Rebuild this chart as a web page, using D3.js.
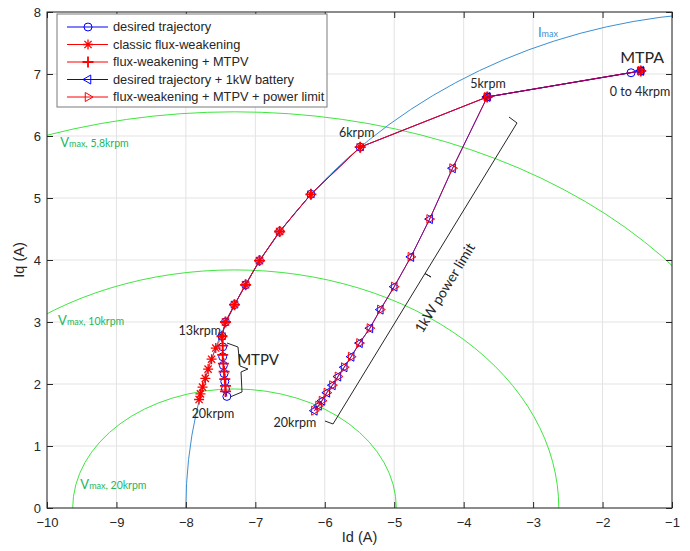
<!DOCTYPE html>
<html>
<head>
<meta charset="utf-8">
<script src="https://cdn.jsdelivr.net/npm/d3@7"></script>
<style>
body { margin: 0; background: #fff; }
text { font-family: "Liberation Sans", Arial, sans-serif; fill: #262626; }
.ann { font-family: Lato, "Open Sans", sans-serif; }
</style>
</head>
<body>
<svg id="chart" width="690" height="551"></svg>
<script>
// axis ticks
let idTicks = [-10, -9, -8, -7, -6, -5, -4, -3, -2, -1]
let iqTicks = [0, 1, 2, 3, 4, 5, 6, 7, 8]

// desired trajectory (MTPA -> 5krpm -> along Imax -> MTPV)
let desiredId = [-1.45, -1.59, -3.66, -5.49, -6.20, -6.65, -6.94, -7.14, -7.30, -7.43, -7.48, -7.47, -7.47, -7.46, -7.45, -7.44, -7.43, -7.41]
let desiredIq = [7.05, 7.02, 6.63, 5.82, 5.06, 4.46, 3.99, 3.60, 3.28, 3.00, 2.77, 2.60, 2.44, 2.30, 2.17, 2.04, 1.92, 1.80]

// classic flux-weakening (stays on Imax)
let classicId = [-1.45, -3.66, -5.49, -6.20, -6.65, -6.94, -7.14, -7.30, -7.43, -7.48, -7.57, -7.63, -7.68, -7.72, -7.76, -7.79, -7.81]
let classicIq = [7.05, 6.63, 5.82, 5.06, 4.46, 3.99, 3.60, 3.28, 3.00, 2.77, 2.58, 2.40, 2.24, 2.09, 1.95, 1.84, 1.75]

// flux-weakening + MTPV
let mtpvId = [-1.45, -3.66, -5.49, -6.20, -6.65, -6.94, -7.14, -7.30, -7.43, -7.48, -7.47, -7.47, -7.46, -7.45, -7.44, -7.43, -7.43]
let mtpvIq = [7.05, 6.63, 5.82, 5.06, 4.46, 3.99, 3.60, 3.28, 3.00, 2.77, 2.62, 2.47, 2.33, 2.20, 2.08, 1.97, 1.88]

// 1kW power limited trajectories (both series share the same points)
let powerId = [-1.45, -3.66, -4.16, -4.49, -4.76, -5.00, -5.20, -5.35, -5.50, -5.62, -5.72, -5.81, -5.89, -5.97, -6.04, -6.09, -6.15]
let powerIq = [7.05, 6.63, 5.48, 4.66, 4.05, 3.57, 3.20, 2.90, 2.66, 2.44, 2.27, 2.12, 1.98, 1.86, 1.73, 1.65, 1.57]

// current limit circle and voltage limit ellipses
let iMax = 8
let vmaxNames = ['5,8krpm', '10krpm', '20krpm']
let vmaxCenter = [-7.3, -7.3, -7.3]
let vmaxAxisD = [7.97, 4.67, 2.33]
let vmaxAxisQ = [6.39, 3.84, 1.92]

let svg = d3.select('#chart')
let plotL = 47, plotR = 672, plotT = 12, plotB = 508

let x = d3.scaleLinear().domain([-10, -1]).range([plotL, plotR])
let y = d3.scaleLinear().domain([0, 8]).range([plotB, plotT])

svg.append('rect').attr('width', 690).attr('height', 551).attr('fill', '#fff')

svg.append('clipPath').attr('id', 'plotclip')
    .append('rect')
    .attr('x', plotL).attr('y', plotT)
    .attr('width', plotR - plotL).attr('height', plotB - plotT)

// grid
svg.append('g').selectAll('line')
    .data(idTicks)
    .enter()
    .append('line')
    .attr('x1', (d) => x(d)).attr('x2', (d) => x(d))
    .attr('y1', plotT).attr('y2', plotB)
    .attr('stroke', '#e3e3e3')
svg.append('g').selectAll('line')
    .data(iqTicks)
    .enter()
    .append('line')
    .attr('y1', (d) => y(d)).attr('y2', (d) => y(d))
    .attr('x1', plotL).attr('x2', plotR)
    .attr('stroke', '#e3e3e3')

let plot = svg.append('g').attr('clip-path', 'url(#plotclip)')

// Vmax ellipses
plot.selectAll('.vmax')
    .data(vmaxNames)
    .enter()
    .append('ellipse')
    .attr('class', 'vmax')
    .attr('cx', (d, i) => x(vmaxCenter[i]))
    .attr('cy', y(0))
    .attr('rx', (d, i) => x(vmaxCenter[i] + vmaxAxisD[i]) - x(vmaxCenter[i]))
    .attr('ry', (d, i) => y(0) - y(vmaxAxisQ[i]))
    .attr('fill', 'none')
    .attr('stroke', '#3fe63f')
    .attr('stroke-width', 1)

// Imax circle
plot.append('ellipse')
    .attr('cx', x(0)).attr('cy', y(0))
    .attr('rx', x(0) - x(-iMax))
    .attr('ry', y(0) - y(iMax))
    .attr('fill', 'none')
    .attr('stroke', '#3b8fd2')
    .attr('stroke-width', 1)

// marker shapes
let markerPath = (type) => {
    if (type === 'asterisk') {
        let r = 5, q = 3.6
        return `M${-r},0H${r}M0,${-r}V${r}M${-q},${-q}L${q},${q}M${-q},${q}L${q},${-q}`
    } else if (type === 'plus') {
        let r = 5.5
        return `M${-r},0H${r}M0,${-r}V${r}`
    } else if (type === 'triLeft') {
        let r = 5
        return `M${-r},0L${r * 0.55},${-r * 0.9}L${r * 0.55},${r * 0.9}Z`
    } else if (type === 'triRight') {
        let r = 5
        return `M${r},0L${-r * 0.55},${-r * 0.9}L${-r * 0.55},${r * 0.9}Z`
    }
    return ''
}

let series = [
    {name: 'desired trajectory', color: '#0000ff', marker: 'circle', ids: desiredId, iqs: desiredIq, width: 1},
    {name: 'classic flux-weakening', color: '#ff0000', marker: 'asterisk', ids: classicId, iqs: classicIq, width: 1.3},
    {name: 'flux-weakening + MTPV', color: '#ff0000', marker: 'plus', ids: mtpvId, iqs: mtpvIq, width: 1.8},
    {name: 'desired trajectory + 1kW battery', color: '#0000ff', marker: 'triLeft', ids: powerId, iqs: powerIq, width: 1},
    {name: 'flux-weakening + MTPV + power limit', color: '#ff0000', marker: 'triRight', ids: powerId, iqs: powerIq, width: 1}
]

let line = d3.line().x((d) => x(d[0])).y((d) => y(d[1]))

let drawMarker = (g, s, px, py) => {
    if (s.marker === 'circle') {
        g.append('circle')
            .attr('cx', px).attr('cy', py).attr('r', 4)
            .attr('fill', 'none')
            .attr('stroke', s.color)
            .attr('stroke-width', 1)
    } else {
        g.append('path')
            .attr('d', markerPath(s.marker))
            .attr('transform', 'translate(' + px + ',' + py + ')')
            .attr('fill', 'none')
            .attr('stroke', s.color)
            .attr('stroke-width', s.width)
    }
}

series.forEach((s) => {
    let pts = s.ids.map((d, i) => [d, s.iqs[i]])
    plot.append('path')
        .attr('d', line(pts))
        .attr('fill', 'none')
        .attr('stroke', s.color)
        .attr('stroke-opacity', s.color === '#ff0000' ? 0.65 : 1)
        .attr('stroke-width', 1)
    let mg = plot.append('g')
    pts.forEach((p) => drawMarker(mg, s, x(p[0]), y(p[1])))
})

// axes
let axisB = d3.axisBottom(x).tickValues(idTicks).tickSizeInner(-6).tickSizeOuter(0).tickPadding(10)
let axisL = d3.axisLeft(y).tickValues(iqTicks).tickSizeInner(-6).tickSizeOuter(0).tickPadding(6)
let axisT = d3.axisTop(x).tickValues(idTicks).tickSizeInner(-6).tickSizeOuter(0).tickFormat('')
let axisR = d3.axisRight(y).tickValues(iqTicks).tickSizeInner(-6).tickSizeOuter(0).tickFormat('')

let styleAxis = (g) => {
    g.select('.domain').remove()
    g.selectAll('line').attr('stroke', '#262626')
    g.selectAll('text').attr('font-size', 13).attr('fill', '#262626')
        .attr('font-family', '"Liberation Sans", Arial, sans-serif')
}
svg.append('g').attr('transform', `translate(0,${plotB})`).call(axisB).call(styleAxis)
svg.append('g').attr('transform', `translate(${plotL},0)`).call(axisL).call(styleAxis)
svg.append('g').attr('transform', `translate(0,${plotT})`).call(axisT).call(styleAxis)
svg.append('g').attr('transform', `translate(${plotR},0)`).call(axisR).call(styleAxis)

svg.append('rect')
    .attr('x', plotL).attr('y', plotT)
    .attr('width', plotR - plotL).attr('height', plotB - plotT)
    .attr('fill', 'none').attr('stroke', '#262626').attr('stroke-width', 1)

svg.append('text').text('Id (A)')
    .attr('x', (plotL + plotR) / 2).attr('y', 542)
    .attr('text-anchor', 'middle').attr('font-size', 14.5)
svg.append('text').text('Iq (A)')
    .attr('transform', `translate(24,${(plotT + plotB) / 2}) rotate(-90)`)
    .attr('text-anchor', 'middle').attr('font-size', 14.5)

// curve labels
let subLabel = (main, sub, rest, id, iq, color) => {
    let t = svg.append('text').attr('class', 'ann')
        .attr('x', x(id)).attr('y', y(iq))
        .attr('font-size', 13).style('fill', color)
    t.append('tspan').text(main)
    t.append('tspan').text(sub).attr('font-size', 9)
    if (rest) t.append('tspan').text(rest).attr('font-size', 10.5)
}
subLabel('I', 'max', '', -2.93, 7.60, '#3b8fd2')
subLabel('V', 'max', ', ' + vmaxNames[0], -9.81, 5.82, '#22b85a')
subLabel('V', 'max', ', ' + vmaxNames[1], -9.84, 2.95, '#22b85a')
subLabel('V', 'max', ', ' + vmaxNames[2], -9.52, 0.30, '#22b85a')

// annotations
let notes = [
    {t: 'MTPA', id: -1.43, iq: 7.18, size: 16},
    {t: '0 to 4krpm', id: -1.46, iq: 6.645, size: 12.5},
    {t: '5krpm', id: -3.65, iq: 6.77, size: 12.5},
    {t: '6krpm', id: -5.54, iq: 5.98, size: 12.5},
    {t: '13krpm', id: -7.80, iq: 2.79, size: 12.5},
    {t: '20krpm', id: -7.61, iq: 1.45, size: 12.5},
    {t: '20krpm', id: -6.43, iq: 1.31, size: 12.5},
    {t: 'MTPV', id: -6.96, iq: 2.31, size: 15}
]
svg.append('g').selectAll('text')
    .data(notes)
    .enter()
    .append('text')
    .attr('class', 'ann')
    .text((d) => d.t)
    .attr('x', (d) => x(d.id))
    .attr('y', (d) => y(d.iq))
    .attr('text-anchor', 'middle')
    .attr('font-size', (d) => d.size)

// brackets
let mtpvBrace = [[-7.408, 2.661], [-7.250, 2.597], [-7.221, 2.290], [-7.106, 2.242], [-7.206, 2.194], [-7.192, 1.871], [-7.365, 1.790]]
let powerBrace = [[-5.997, 1.403], [-5.881, 1.355], [-4.557, 3.782], [-4.470, 3.726], [-4.557, 3.782], [-3.232, 6.210], [-3.347, 6.306]]
let bracketLine = d3.line().x((d) => x(d[0])).y((d) => y(d[1]))
svg.append('path').attr('d', bracketLine(mtpvBrace))
    .attr('fill', 'none').attr('stroke', '#262626').attr('stroke-width', 1)
svg.append('path').attr('d', bracketLine(powerBrace))
    .attr('fill', 'none').attr('stroke', '#262626').attr('stroke-width', 1)

svg.append('text').attr('class', 'ann')
    .text('1kW power limit')
    .attr('transform', `translate(${x(-4.27)},${y(3.55)}) rotate(-58.5)`)
    .attr('text-anchor', 'middle')
    .attr('dy', '0.35em')
    .attr('font-size', 14)

// legend
let legend = svg.append('g')
legend.append('rect')
    .attr('x', 57).attr('y', 14).attr('width', 270).attr('height', 93)
    .attr('fill', '#fff').attr('stroke', '#7a7a7a').attr('stroke-width', 1)

series.forEach((s, i) => {
    let ly = 27 + i * 17.5
    legend.append('line')
        .attr('x1', 67).attr('x2', 108)
        .attr('y1', ly).attr('y2', ly)
        .attr('stroke', s.color).attr('stroke-width', 1)
    drawMarker(legend, s, 88, ly)
    legend.append('text')
        .text(s.name)
        .attr('x', 113).attr('y', ly)
        .attr('dy', '0.35em')
        .attr('font-size', 12.8)
})
</script>
</body>
</html>
